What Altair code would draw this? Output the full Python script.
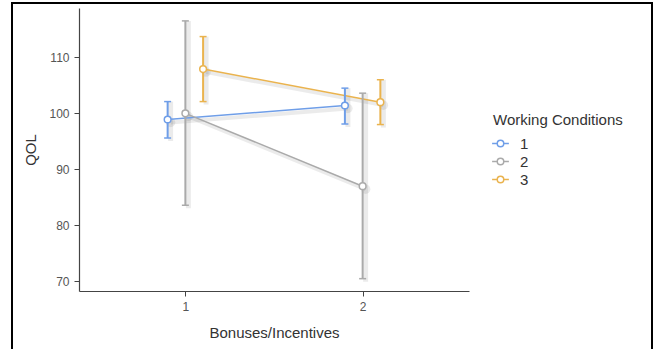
import altair as alt
import pandas as pd

bonus = [1, 1, 1, 2, 2, 2]
condition = ["1", "2", "3", "1", "2", "3"]
qol_mean = [98.9, 100.0, 107.9, 101.4, 87.0, 102.0]
qol_lower = [95.6, 83.6, 102.1, 98.1, 70.5, 98.0]
qol_upper = [102.1, 116.5, 113.7, 104.5, 103.6, 106.0]
y_ticks = [70, 80, 90, 100, 110]
x_ticks = [1, 2]

df = pd.DataFrame({
    "bonus": bonus,
    "cond": condition,
    "mean": qol_mean,
    "lower": qol_lower,
    "upper": qol_upper,
})

colors = ["#6f9ee8", "#aaaaaa", "#eab34e"]
FONT = "Liberation Sans"

base = alt.Chart(df).transform_calculate(
    xd="datum.bonus + (toNumber(datum.cond) - 2) * 0.1"
)

xs = alt.X("xd:Q", title="Bonuses/Incentives",
           scale=alt.Scale(domain=[0.4, 2.6], nice=False, zero=False),
           axis=alt.Axis(values=x_ticks, format="d"))
ys = alt.Y("mean:Q", title="QOL",
           scale=alt.Scale(domain=[68.3, 118.8], nice=False, zero=False),
           axis=alt.Axis(values=y_ticks))
col_scale = alt.Scale(domain=["1", "2", "3"], range=colors)
stroke_enc = alt.Stroke("cond:N", scale=col_scale, title="Working Conditions")

legend_shape = ("M -1.6 0 L -0.62 0 M 0.62 0 L 1.6 0 "
                "M 0.62 0 A 0.62 0.62 0 1 1 -0.62 0 A 0.62 0.62 0 1 1 0.62 0")

shadow = dict(color="#000000", opacity=0.08)

line_sh = base.mark_line(strokeWidth=4, xOffset=3, yOffset=3, **shadow).encode(
    x=xs, y=ys, detail="cond:N")
rule_sh = base.mark_rule(strokeWidth=5, xOffset=3, yOffset=3, **shadow).encode(
    x="xd:Q", y="lower:Q", y2="upper:Q")
pt_sh = base.mark_circle(size=90, xOffset=3, yOffset=3, **shadow).encode(
    x="xd:Q", y="mean:Q")

lines = base.mark_line(strokeWidth=1.5).encode(x=xs, y=ys, stroke=stroke_enc)
rules = base.mark_rule(strokeWidth=2).encode(
    x="xd:Q", y="lower:Q", y2="upper:Q", stroke=stroke_enc)
caps_lo = base.mark_rule(strokeWidth=1.5, xOffset=-3.5, x2Offset=3.5).encode(
    x="xd:Q", x2="xd:Q", y="lower:Q", stroke=stroke_enc)
caps_hi = base.mark_rule(strokeWidth=1.5, xOffset=-3.5, x2Offset=3.5).encode(
    x="xd:Q", x2="xd:Q", y="upper:Q", stroke=stroke_enc)
points = base.mark_point(filled=False, fill="white", fillOpacity=1, size=45,
                         strokeWidth=1.5, opacity=1).encode(
    x="xd:Q", y="mean:Q",
    stroke=alt.Stroke("cond:N", scale=col_scale, title="Working Conditions",
                      legend=alt.Legend(symbolType=legend_shape, symbolFillColor="white",
                                        symbolStrokeWidth=1.5, symbolSize=110)),
)

frame = alt.Chart(df).mark_rect(fill=None, stroke="#000000", strokeWidth=2, fillOpacity=0).encode(
    x=alt.value(-67), x2=alt.value(573), y=alt.value(-5), y2=alt.value(360))

chart = alt.layer(frame, line_sh, rule_sh, pt_sh, lines, rules, caps_lo, caps_hi, points).properties(
    width=390, height=283,
    autosize=alt.AutoSizeParams(type="none"),
    padding={"left": 79, "top": 8, "right": 188, "bottom": 58},
).configure_view(stroke=None).configure_axis(
    grid=False, domainColor="#444444", domainWidth=1.2, tickColor="#444444",
    tickSize=5, labelColor="#555555", labelFont=FONT, labelFontSize=12,
    titleFont=FONT, titleFontSize=15, titleFontWeight="normal", titleColor="#333333",
    labelPadding=5,
).configure_axisY(titleX=-41).configure_axisX(titlePadding=13).configure_legend(
    orient="none", legendX=414, legendY=105, titleFont=FONT, titleFontSize=15,
    titleFontWeight="normal", titleColor="#333333", labelFont=FONT, labelFontSize=15,
    labelColor="#333333", rowPadding=2, titlePadding=8, labelOffset=12,
)

chart.save("out.html", embed_options={"renderer": "svg", "actions": False})
